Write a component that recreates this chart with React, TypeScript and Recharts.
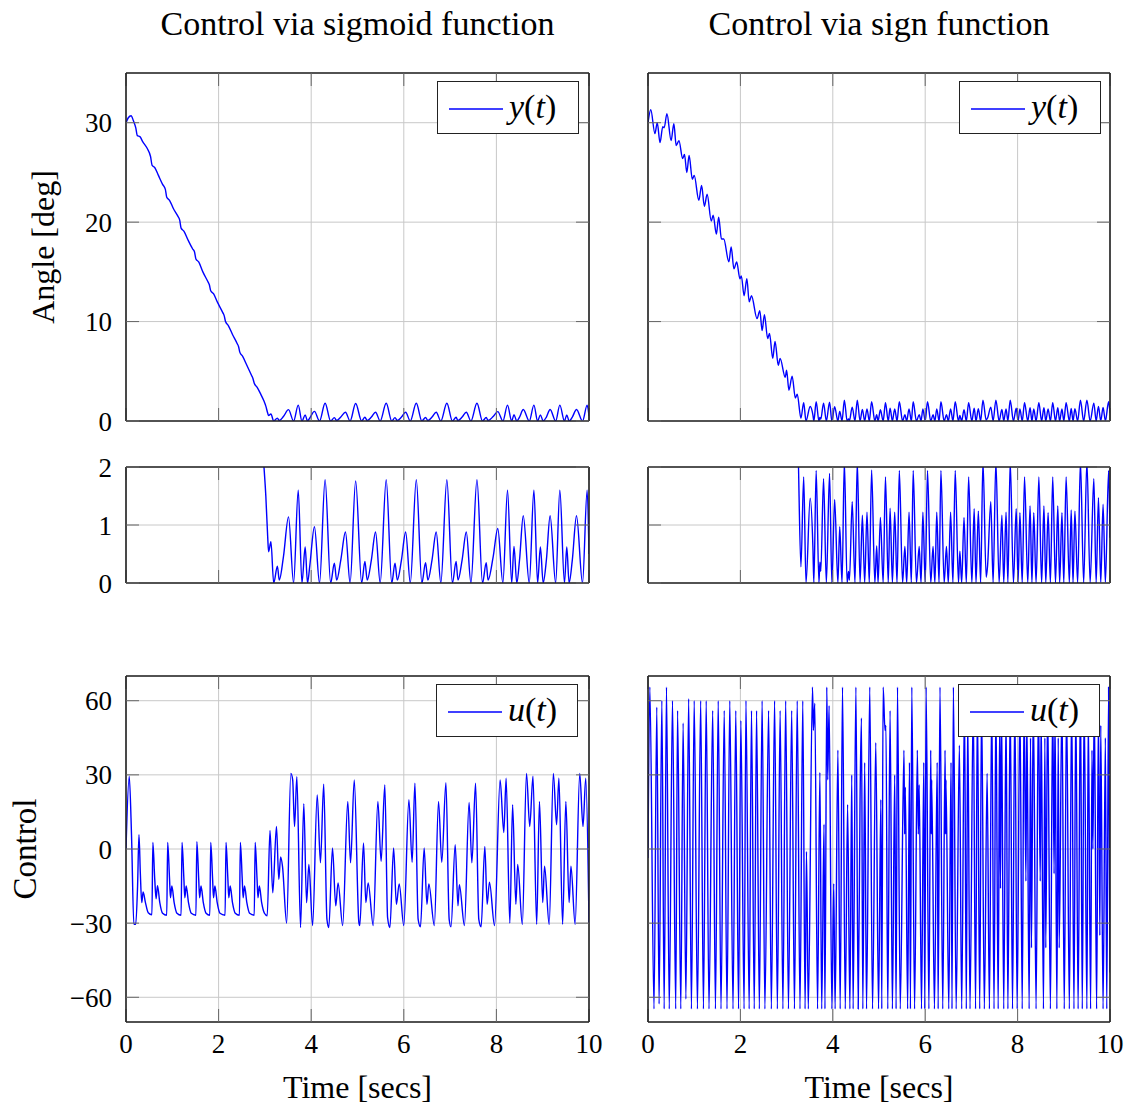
import React from 'react';
import { LineChart, Line, XAxis, YAxis, CartesianGrid } from 'recharts';

// ---------- ticks ----------
const xTicks = [0, 2, 4, 6, 8, 10];
const angleTicks = [0, 10, 20, 30];
const zoomTicks = [0, 1, 2];
const controlTicks = [-60, -30, 0, 30, 60];

// ---------- y(t), sigmoid control : [time, angle] ----------
const ySigmoid: [number, number][] = [
  [0, 30.0], [0.05, 30.5], [0.11, 30.7], [0.16, 30.2], [0.21, 29.5], [0.245, 28.7], [0.30, 28.6], [0.36, 28.1],
  [0.46, 27.4], [0.53, 26.6], [0.565, 25.7], [0.62, 25.5], [0.70, 24.7], [0.79, 23.8], [0.85, 23.3], [0.88, 22.5],
  [0.94, 22.2], [1.02, 21.4], [1.12, 20.6], [1.16, 20.2], [1.19, 19.4], [1.25, 19.1], [1.34, 18.2], [1.44, 17.3],
  [1.48, 17.0], [1.51, 16.3], [1.57, 16.0], [1.66, 15.0], [1.77, 14.0], [1.80, 13.7], [1.83, 13.1], [1.89, 12.8],
  [1.98, 11.9], [2.09, 10.9], [2.12, 10.6], [2.15, 10.0], [2.21, 9.6], [2.30, 8.7], [2.40, 7.8], [2.43, 7.5],
  [2.46, 6.9], [2.52, 6.5], [2.61, 5.6], [2.71, 4.6], [2.74, 4.3], [2.77, 3.8], [2.83, 3.4], [2.91, 2.7],
  [2.98, 2.0], [3.02, 1.5], [3.06, 0.8], [3.08, 0.54], [3.13, 0.71], [3.19, 0.0], [3.27, 0.29], [3.31, 0.05],
  [3.40, 0.45], [3.51, 1.14], [3.62, 0.0], [3.72, 1.60], [3.80, 0.0], [3.87, 0.62], [3.92, 0.0], [3.97, 0.3],
  [4.07, 0.97], [4.18, 0.0], [4.30, 1.78], [4.42, 0.0], [4.50, 0.34], [4.55, 0.05], [4.64, 0.4], [4.74, 0.88],
  [4.84, 0.0], [4.96, 1.76], [5.09, 0.0], [5.16, 0.37], [5.21, 0.05], [5.30, 0.4], [5.39, 0.88], [5.49, 0.0],
  [5.62, 1.78], [5.74, 0.0], [5.81, 0.34], [5.86, 0.05], [5.95, 0.4], [6.04, 0.88], [6.14, 0.0], [6.27, 1.78],
  [6.39, 0.0], [6.47, 0.35], [6.52, 0.05], [6.61, 0.4], [6.70, 0.88], [6.80, 0.0], [6.93, 1.78], [7.05, 0.0],
  [7.13, 0.37], [7.17, 0.05], [7.26, 0.4], [7.35, 0.88], [7.45, 0.0], [7.58, 1.78], [7.70, 0.0], [7.78, 0.35],
  [7.82, 0.05], [7.93, 0.45], [8.03, 0.94], [8.14, 0.0], [8.24, 1.60], [8.33, 0.0], [8.38, 0.63], [8.44, 0.0],
  [8.50, 0.4], [8.58, 1.16], [8.71, 0.0], [8.81, 1.60], [8.89, 0.0], [8.95, 0.62], [9.01, 0.0], [9.08, 0.4],
  [9.16, 1.16], [9.28, 0.0], [9.37, 1.60], [9.47, 0.0], [9.52, 0.62], [9.57, 0.0], [9.64, 0.4], [9.73, 1.16],
  [9.86, 0.0], [9.96, 1.60], [10.0, 0.5],
];

// ---------- y(t), sign control : [time, angle] ----------
const ySign: [number, number][] = [
  [0, 30.0], [0.06, 31.3], [0.15, 28.9], [0.20, 30.0], [0.26, 28.0], [0.32, 29.6], [0.35, 29.5], [0.41, 30.9],
  [0.50, 28.2], [0.56, 29.9], [0.61, 27.7], [0.67, 28.2], [0.75, 26.4], [0.79, 26.8], [0.84, 25.0], [0.89, 26.7],
  [0.96, 24.3], [1.00, 24.7], [1.10, 22.2], [1.16, 23.7], [1.22, 21.6], [1.28, 22.8], [1.37, 20.1], [1.41, 20.7],
  [1.48, 18.8], [1.53, 20.5], [1.59, 18.3], [1.64, 18.3], [1.75, 16.0], [1.80, 17.5], [1.86, 15.3], [1.92, 16.0],
  [1.99, 14.3], [2.02, 14.6], [2.08, 12.6], [2.14, 14.3], [2.19, 12.0], [2.24, 12.6], [2.36, 10.3], [2.42, 11.1],
  [2.47, 9.1], [2.52, 10.7], [2.59, 8.3], [2.63, 8.8], [2.70, 6.3], [2.75, 8.0], [2.82, 5.6], [2.86, 6.3],
  [2.97, 4.4], [3.00, 5.1], [3.05, 3.1], [3.12, 4.5], [3.19, 2.3], [3.23, 2.7], [3.31, 0.28], [3.37, 1.83],
  [3.42, 0.0], [3.51, 1.46], [3.57, 0.6], [3.59, 0.0], [3.64, 1.94], [3.70, 0.0], [3.72, 0.36], [3.74, 0.2],
  [3.80, 1.80], [3.86, 0.0], [3.93, 1.89], [3.98, 0.0], [4.04, 1.44], [4.11, 0.0], [4.15, 0.97], [4.20, 0.0],
  [4.25, 2.1], [4.31, 0.0], [4.34, 0.2], [4.36, 0.05], [4.42, 1.40], [4.48, 0.0], [4.53, 2.1], [4.59, 0.0],
  [4.64, 1.17], [4.69, 0.0], [4.74, 1.22], [4.79, 0.0], [4.84, 1.95], [4.91, 0.0], [4.95, 0.64], [4.98, 0.0],
  [5.03, 1.13], [5.09, 0.0], [5.14, 1.83], [5.20, 0.0], [5.24, 1.29], [5.29, 0.0], [5.34, 1.22], [5.39, 0.0],
  [5.44, 1.94], [5.51, 0.0], [5.56, 0.63], [5.60, 0.0], [5.65, 1.22], [5.70, 0.0], [5.74, 1.94], [5.81, 0.0],
  [5.87, 0.63], [5.91, 0.0], [5.95, 1.22], [6.00, 0.0], [6.05, 1.94], [6.12, 0.0], [6.17, 0.63], [6.21, 0.0],
  [6.25, 1.22], [6.30, 0.0], [6.34, 1.94], [6.41, 0.0], [6.46, 0.63], [6.50, 0.0], [6.55, 1.22], [6.60, 0.0],
  [6.65, 1.94], [6.72, 0.0], [6.75, 0.55], [6.79, 0.0], [6.84, 1.13], [6.89, 0.0], [6.94, 1.83], [7.01, 0.0],
  [7.06, 1.28], [7.10, 0.0], [7.15, 1.24], [7.20, 0.0], [7.25, 2.1], [7.32, 0.1], [7.35, 0.3], [7.42, 1.40],
  [7.47, 0.0], [7.53, 2.1], [7.60, 0.0], [7.66, 1.17], [7.70, 0.0], [7.75, 1.22], [7.79, 0.0], [7.84, 2.1],
  [7.91, 0.0], [7.97, 1.28], [8.01, 0.0], [8.05, 1.21], [8.10, 0.0], [8.15, 1.83], [8.22, 0.0], [8.27, 1.33],
  [8.31, 0.0], [8.35, 1.21], [8.40, 0.0], [8.46, 1.83], [8.52, 0.0], [8.57, 1.33], [8.61, 0.0], [8.66, 1.21],
  [8.71, 0.0], [8.76, 1.83], [8.82, 0.0], [8.87, 1.33], [8.91, 0.0], [8.96, 1.21], [9.00, 0.0], [9.05, 1.83],
  [9.12, 0.0], [9.16, 1.26], [9.20, 0.0], [9.24, 1.24], [9.30, 0.0], [9.36, 2.1], [9.43, 0.0], [9.50, 2.1],
  [9.57, 0.0], [9.65, 1.8], [9.70, 0.0], [9.75, 1.47], [9.80, 0.0], [9.85, 1.36], [9.90, 0.0], [9.97, 1.94],
  [10.0, 0.78],
];

// ---------- u(t), sigmoid control : [time, control] ----------
const uSigmoid: [number, number][] = [
  [0, 0], [0.07, 29.5], [0.12, 5], [0.17, -30.5], [0.21, -30.5], [0.25, -15], [0.28, 5.8], [0.31, -10],
  [0.34, -21.7], [0.37, -17.4], [0.42, -21.7], [0.48, -25.8], [0.56, -26.6],
  [0.58, 2.7], [0.62, -12], [0.65, -20.1], [0.68, -14.8], [0.73, -21.7], [0.79, -26.0], [0.88, -26.8],
  [0.90, 2.7], [0.94, -12], [0.96, -19.7], [0.99, -15], [1.04, -21.7], [1.10, -26.0], [1.19, -26.8],
  [1.21, 2.7], [1.25, -12], [1.27, -19.7], [1.30, -15], [1.35, -21.7], [1.41, -26.0], [1.51, -26.8],
  [1.53, 3.0], [1.57, -12], [1.59, -19.7], [1.62, -15], [1.67, -21.7], [1.73, -26.0], [1.81, -26.8],
  [1.83, 2.7], [1.87, -12], [1.89, -19.7], [1.92, -15], [1.97, -21.7], [2.03, -26.0], [2.14, -26.8],
  [2.16, 2.7], [2.20, -12], [2.22, -19.7], [2.25, -15], [2.30, -21.7], [2.36, -26.0], [2.45, -26.8],
  [2.47, 2.7], [2.51, -12], [2.53, -19.7], [2.56, -15], [2.61, -21.7], [2.67, -26.0], [2.77, -26.8],
  [2.79, 2.7], [2.83, -12], [2.85, -19.7], [2.88, -15], [2.93, -21.7], [2.99, -26.0], [3.05, -27],
  [3.11, 7.5], [3.17, -17.7], [3.25, 9.1], [3.30, -12.3], [3.34, -3.2], [3.38, -7], [3.47, -30], [3.56, 30.6],
  [3.60, 28], [3.64, 9.1], [3.69, 29.3], [3.77, -31.8], [3.84, 18.3], [3.90, -21.7], [3.95, -6.3], [4.03, -31],
  [4.13, 21.9], [4.20, -5.6], [4.27, 26.2], [4.34, -28.5], [4.38, -31.8], [4.46, 0.4], [4.53, -23], [4.58, -13.7],
  [4.68, -31], [4.79, 19.2], [4.85, -5.6], [4.93, 27.9], [5.03, -29.8], [5.05, -31], [5.13, 2.4], [5.18, -21.7],
  [5.23, -13.7], [5.34, -31], [5.44, 19.2], [5.51, -5], [5.59, 25.9], [5.65, -27.8], [5.70, -31.8], [5.78, 0.4],
  [5.84, -22.4], [5.90, -14.1], [6.00, -31], [6.11, 19.9], [6.18, -5.4], [6.24, 26.6], [6.31, -28.5], [6.36, -31.5],
  [6.44, 0.4], [6.50, -22.4], [6.54, -14.1], [6.66, -31], [6.75, 19.2], [6.82, -5.4], [6.91, 26.8], [6.98, -28.5],
  [7.02, -31.5], [7.11, 1.7], [7.17, -23], [7.20, -14.4], [7.31, -31], [7.41, 18.8], [7.47, -5.6], [7.55, 26.6],
  [7.62, -28.5], [7.67, -31.5], [7.75, 1], [7.80, -22.4], [7.85, -13.4], [7.96, -31], [8.08, 27.9], [8.16, 6.7],
  [8.21, 28.6], [8.29, -30], [8.35, 17.9], [8.42, -22.4], [8.46, -6.3], [8.56, -30.5], [8.65, 30.6], [8.72, 9.1],
  [8.79, 29.5], [8.87, -30.5], [8.93, 19.2], [9.00, -21.7], [9.04, -7], [9.14, -30.5], [9.23, 30.6], [9.30, 9.8],
  [9.35, 28.6], [9.43, -30.5], [9.50, 19.2], [9.57, -21.7], [9.61, -7], [9.70, -30.5], [9.80, 30.6], [9.87, 9.1],
  [9.93, 28.6], [10.0, -30],
];

// ---------- u(t), sign control : [time, control] ----------
const uSign: [number, number][] = [
  [0, -3.6], [0.04, 65.5], [0.13, -64.7], [0.19, 57.4], [0.24, -62.7], [0.30, 60.1], [0.35, -64.7], [0.40, 65.5],
  [0.46, -64.7], [0.53, 60], [0.60, -64.7], [0.64, 56], [0.71, -64.7], [0.76, 51], [0.82, -60.7], [0.88, 60.8],
  [0.94, -64.7], [1.00, 60], [1.07, -64.7], [1.14, 60], [1.20, -64.7], [1.26, 60], [1.32, -64.7], [1.40, 56],
  [1.46, -64.7], [1.52, 60], [1.58, -64.7], [1.65, 56], [1.71, -64.7], [1.77, 60], [1.84, -64.7], [1.90, 56],
  [1.96, -64.7], [2.01, 52], [2.08, -64.7], [2.12, 60], [2.19, -64.7], [2.24, 56], [2.30, -64.7], [2.35, 56],
  [2.41, -64.7], [2.47, 60], [2.53, -64.7], [2.61, 56], [2.67, -64.7], [2.74, 60], [2.80, -64.7], [2.86, 56],
  [2.92, -64.7], [2.98, 60], [3.04, -64.7], [3.11, 56], [3.17, -64.7], [3.23, 60], [3.29, -64.7], [3.35, 60],
  [3.40, -64.7], [3.43, -1], [3.47, -64.7], [3.56, 65.5], [3.58, 48], [3.61, 59], [3.67, -64.7], [3.72, 31],
  [3.76, -64.7], [3.81, 10], [3.83, -64.7], [3.87, 65.5], [3.89, 28], [3.92, 58], [3.98, -64.7], [4.02, -14],
  [4.05, -64.7], [4.11, 40], [4.16, -64.7], [4.21, 65.5], [4.27, -64.7], [4.32, 18], [4.37, -64.7], [4.41, 30],
  [4.44, -64.7], [4.50, 65.5], [4.55, -64.7], [4.59, 20], [4.62, 53], [4.65, -64.7], [4.69, 35], [4.73, -64.7],
  [4.80, 65.5], [4.86, -64.7], [4.93, 43], [4.99, -64.7], [5.04, 20], [5.06, -64.7], [5.09, 65.5], [5.13, 48],
  [5.15, 50], [5.19, -64.7], [5.24, 56], [5.29, -64.7], [5.34, 30], [5.37, -64.7], [5.40, 65.5], [5.46, -64.7],
  [5.54, 40], [5.555, 6], [5.57, 25], [5.62, -64.7], [5.66, 35], [5.68, -64.7], [5.71, 65.5], [5.77, -64.7],
  [5.83, 40], [5.85, 6], [5.87, 26], [5.92, -64.7], [5.97, 35], [5.99, -64.7], [6.02, 65.5], [6.08, -64.7],
  [6.12, 40], [6.13, 6], [6.14, 28], [6.20, -64.7], [6.26, 35], [6.28, -64.7], [6.32, 65.5], [6.38, -64.7],
  [6.43, 40], [6.44, 6], [6.45, 28], [6.51, -64.7], [6.56, 35], [6.58, -64.7], [6.61, 65.5], [6.67, -64.7],
  [6.74, 42], [6.79, -64.7], [6.85, 60], [6.89, -64.7], [6.92, 55], [6.97, -64.7], [7.04, 60], [7.09, -64.7],
  [7.13, 60], [7.18, -64.7], [7.22, 60], [7.28, -64.7], [7.34, 30.6], [7.39, -64.7], [7.44, 60], [7.49, -64.7],
  [7.53, 60], [7.58, -64.7], [7.61, 50], [7.63, -16], [7.65, 60], [7.70, -64.7], [7.75, 55], [7.79, -64.7],
  [7.84, 60], [7.89, -64.7], [7.94, 60], [7.99, -64.7], [8.05, 60], [8.10, -64.7], [8.14, 60], [8.18, -13],
  [8.20, 55], [8.25, -64.7], [8.28, 45], [8.30, -40], [8.34, 60], [8.40, -64.7], [8.45, 60], [8.49, -13],
  [8.51, 55], [8.56, -64.7], [8.59, 45], [8.61, -40], [8.65, 60], [8.71, -64.7], [8.76, 60], [8.79, -10],
  [8.81, 55], [8.85, -64.7], [8.88, 45], [8.90, -40], [8.96, 60], [9.01, -64.7], [9.06, 60], [9.12, -64.7],
  [9.17, 60], [9.22, -64.7], [9.26, 60], [9.31, -64.7], [9.36, 65.5], [9.40, -64.7], [9.44, 60], [9.50, -64.7],
  [9.53, 55], [9.58, -64.7], [9.61, 40], [9.63, 0], [9.66, 60], [9.71, -64.7], [9.75, 56], [9.78, -35],
  [9.80, 50], [9.85, -64.7], [9.90, 45], [9.93, -64.7], [9.97, 65.5], [10.0, -50],
];

const toRows = (pairs: [number, number][]) => pairs.map(([t, v]) => ({ t, v }));

const FONT = '"Liberation Serif", "Times New Roman", serif';
const BLUE = '#0000ff';
const ML = 100;
const MR = 30;
const MT = 24;
const MB = 24;

const minus = (v: number) => String(v).replace('-', '\u2212');
const NoTick = () => <g />;

type PanelProps = {
  x: number; y: number; w: number; h: number;
  pairs: [number, number][];
  domain: [number, number];
  ticks: number[];
  yLabels: boolean;
  xLabels: boolean;
  curve: 'monotone' | 'linear';
};

function Panel({ x, y, w, h, pairs, domain, ticks, yLabels, xLabels, curve }: PanelProps) {
  const BH = xLabels ? 60 : 1;
  const W = ML + w + 1 + MR;
  const H = MT + 1 + h + BH + MB;
  const axisLine = { stroke: '#222', strokeWidth: 1.6 };
  const tickLine = { stroke: '#666', strokeWidth: 1 };
  const tickStyle = { fill: '#000', fontSize: 27, fontFamily: FONT };
  return (
    <div style={{ position: 'absolute', left: x - ML, top: y - MT - 1 }}>
      <LineChart width={W} height={H} data={toRows(pairs)} margin={{ top: MT, right: MR, bottom: MB, left: 0 }}>
        <CartesianGrid xAxisId="b" yAxisId="l" stroke="#c8c8c8" strokeWidth={1} />
        <XAxis xAxisId="b" dataKey="t" type="number" domain={[0, 10]} ticks={xTicks} allowDataOverflow
          height={BH} tickSize={-13} tickMargin={25} axisLine={axisLine} tickLine={tickLine}
          tick={xLabels ? tickStyle : NoTick} interval={0} />
        <XAxis xAxisId="t" dataKey="t" orientation="top" type="number" domain={[0, 10]} ticks={xTicks} allowDataOverflow
          height={1} tickSize={-13} axisLine={axisLine} tickLine={tickLine} tick={NoTick} interval={0} />
        <YAxis yAxisId="l" type="number" domain={domain} ticks={ticks} allowDataOverflow width={ML}
          tickSize={-13} tickMargin={27} axisLine={axisLine} tickLine={tickLine}
          tick={yLabels ? tickStyle : NoTick} tickFormatter={minus} interval={0} />
        <YAxis yAxisId="r" dataKey="v" orientation="right" type="number" domain={domain} ticks={ticks} allowDataOverflow
          width={1} tickSize={-13} axisLine={axisLine} tickLine={tickLine} tick={NoTick} interval={0} />
        <Line xAxisId="b" yAxisId="l" dataKey="v" type={curve} stroke={BLUE} strokeWidth={1.4}
          dot={false} isAnimationActive={false} />
      </LineChart>
    </div>
  );
}

function LegendBox({ x, y, name }: { x: number; y: number; name: string }) {
  return (
    <div style={{
      position: 'absolute', left: x, top: y, width: 140, height: 51, background: '#fff',
      border: '1.5px solid #222', boxSizing: 'content-box',
    }}>
      <svg style={{ position: 'absolute', left: 11, top: 20 }} width={54} height={12}>
        <line x1={0} y1={7} x2={54} y2={7} stroke={BLUE} strokeWidth={1.4} />
      </svg>
      <div style={{ position: 'absolute', left: 71, top: 4, fontFamily: FONT, fontSize: 34, lineHeight: '42px', color: '#000' }}>
        <i>{name}</i>(<i>t</i>)
      </div>
    </div>
  );
}

const textBase: React.CSSProperties = { position: 'absolute', fontFamily: FONT, color: '#000', whiteSpace: 'nowrap' };

export default function App() {
  const L = 126, R = 648, LW = 463, RW = 462;
  return (
    <div style={{ position: 'absolute', left: 0, top: 0, width: 1131, height: 1108, background: '#fff' }}>
      <Panel x={L} y={73} w={LW} h={348} pairs={ySigmoid} domain={[0, 35]} ticks={angleTicks} yLabels xLabels={false} curve="monotone" />
      <Panel x={R} y={73} w={RW} h={348} pairs={ySign} domain={[0, 35]} ticks={angleTicks} yLabels={false} xLabels={false} curve="monotone" />
      <Panel x={L} y={467} w={LW} h={116} pairs={ySigmoid} domain={[0, 2]} ticks={zoomTicks} yLabels xLabels={false} curve="monotone" />
      <Panel x={R} y={467} w={RW} h={116} pairs={ySign} domain={[0, 2]} ticks={zoomTicks} yLabels={false} xLabels={false} curve="monotone" />
      <Panel x={L} y={676} w={LW} h={346} pairs={uSigmoid} domain={[-70, 70]} ticks={controlTicks} yLabels xLabels curve="monotone" />
      <Panel x={R} y={676} w={RW} h={346} pairs={uSign} domain={[-70, 70]} ticks={controlTicks} yLabels={false} xLabels curve="monotone" />

      <div style={{ ...textBase, left: L, width: LW, top: 5, fontSize: 34, textAlign: 'center' }}>Control via sigmoid function</div>
      <div style={{ ...textBase, left: R, width: RW, top: 5, fontSize: 34, textAlign: 'center' }}>Control via sign function</div>

      <LegendBox x={437} y={81} name="y" />
      <LegendBox x={959} y={81} name="y" />
      <LegendBox x={436} y={684} name="u" />
      <LegendBox x={958} y={684} name="u" />

      <div style={{ ...textBase, left: 43, top: 247, fontSize: 32, transform: 'translate(-50%, -50%) rotate(-90deg)' }}>Angle [deg]</div>
      <div style={{ ...textBase, left: 25, top: 849, fontSize: 33, transform: 'translate(-50%, -50%) rotate(-90deg)' }}>Control</div>
      <div style={{ ...textBase, left: L, width: LW, top: 1069, fontSize: 32, textAlign: 'center' }}>Time [secs]</div>
      <div style={{ ...textBase, left: R, width: RW, top: 1069, fontSize: 32, textAlign: 'center' }}>Time [secs]</div>
    </div>
  );
}
